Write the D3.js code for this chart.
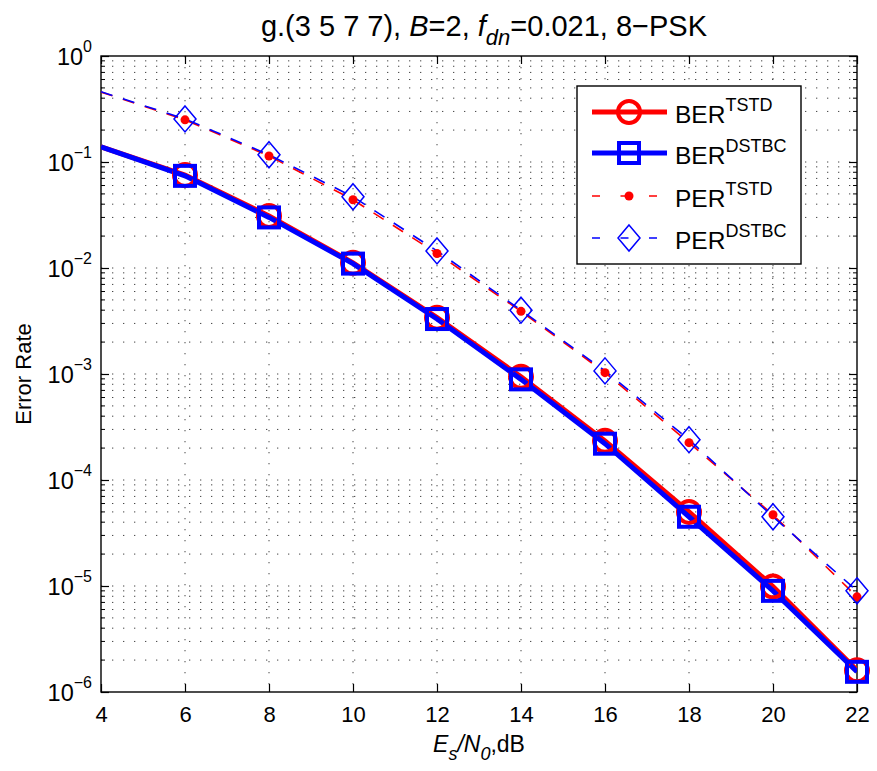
<!DOCTYPE html>
<html><head><meta charset="utf-8">
<script src="https://cdn.jsdelivr.net/npm/d3@7"></script>
<style>
body{margin:0;background:#fff;}
svg{font-family:"Liberation Sans",Arial,Helvetica,sans-serif;}
</style></head>
<body><svg id="c" width="877" height="771"></svg>
<script>
// ---- data ----
const snr = [4, 6, 8, 10, 12, 14, 16, 18, 20, 22];
const berTSTD  = [0.139, 0.0754, 0.031, 0.0112, 0.0034, 0.00094, 0.000234, 0.000050, 0.0000099, 0.0000016];
const berDSTBC = [0.139, 0.074, 0.030, 0.011, 0.0033, 0.00089, 0.00022, 0.000045, 0.0000090, 0.00000155];
const perTSTD  = [0.457, 0.25, 0.114, 0.044, 0.0137, 0.0039, 0.00103, 0.000225, 0.000047, 0.0000079];
const perDSTBC = [0.46, 0.255, 0.117, 0.047, 0.0145, 0.0040, 0.00107, 0.00024, 0.000045, 0.0000090];
const xTicks = [4, 6, 8, 10, 12, 14, 16, 18, 20, 22];
const yExps = [0, -1, -2, -3, -4, -5, -6];
const legendNames = [["BER","TSTD"],["BER","DSTBC"],["PER","TSTD"],["PER","DSTBC"]];

const svg = d3.select("#c");
const L = 101, R = 857, T = 56, B = 692;
const x = d3.scaleLinear().domain([4, 22]).range([L, R]);
const y = d3.scaleLog().domain([1e-6, 1]).range([B, T]);

svg.append("defs").append("clipPath").attr("id","clip")
  .append("rect").attr("x",L).attr("y",T).attr("width",R-L).attr("height",B-T);

// grid
const grid = svg.append("g");
const minorVals = [];
for (let e = -6; e < 0; e++) for (let m = 1; m <= 9; m++) minorVals.push(m * Math.pow(10, e));
minorVals.push(1);
grid.selectAll("line.h").data(minorVals.filter(v => v > 1e-6 && v < 1)).enter().append("line")
  .attr("x1", L).attr("x2", R).attr("y1", d => y(d)).attr("y2", d => y(d))
  .attr("stroke", "#444").attr("stroke-width", 1).attr("stroke-dasharray", "1.3,9.7");
grid.selectAll("line.v").data(xTicks.slice(1, -1)).enter().append("line")
  .attr("x1", d => x(d)).attr("x2", d => x(d)).attr("y1", T).attr("y2", B)
  .attr("stroke", "#444").attr("stroke-width", 1).attr("stroke-dasharray", "1.3,9.7");

// axes
const xAxis = svg.append("g").attr("transform", `translate(0,${B})`)
  .call(d3.axisBottom(x).tickValues(xTicks).tickSize(-8).tickPadding(14).tickFormat(d3.format("d")));
xAxis.select(".domain").remove();
xAxis.selectAll("text").attr("font-size", 22).attr("fill","#000").attr("dy","0.71em");
xAxis.selectAll("line").attr("stroke","#000").attr("stroke-width",1.2);
const xAxisTop = svg.append("g").attr("transform", `translate(0,${T})`)
  .call(d3.axisTop(x).tickValues(xTicks).tickSize(-8).tickFormat(""));
xAxisTop.select(".domain").remove();
xAxisTop.selectAll("line").attr("stroke","#000").attr("stroke-width",1.2);

const yAxis = svg.append("g").attr("transform", `translate(${L},0)`)
  .call(d3.axisLeft(y).tickValues(yExps.map(e => Math.pow(10, e))).tickSize(-8).tickFormat(""));
yAxis.select(".domain").remove();
yAxis.selectAll("line").attr("stroke","#000").attr("stroke-width",1.2);
const yAxisR = svg.append("g").attr("transform", `translate(${R},0)`)
  .call(d3.axisRight(y).tickValues(yExps.map(e => Math.pow(10, e))).tickSize(-8).tickFormat(""));
yAxisR.select(".domain").remove();
yAxisR.selectAll("line").attr("stroke","#000").attr("stroke-width",1.2);
const minorOnly = minorVals.filter(v => { const l = Math.log10(v); return Math.abs(l - Math.round(l)) > 1e-9; });
svg.append("g").selectAll("line").data(minorOnly).enter().append("line")
  .attr("x1", L).attr("x2", L + 4).attr("y1", d => y(d)).attr("y2", d => y(d))
  .attr("stroke","#000").attr("stroke-width",1);
svg.append("g").selectAll("line").data(minorOnly).enter().append("line")
  .attr("x1", R).attr("x2", R - 4).attr("y1", d => y(d)).attr("y2", d => y(d))
  .attr("stroke","#000").attr("stroke-width",1);

// y tick labels
const yl = svg.append("g").selectAll("text").data(yExps).enter().append("text")
  .attr("x", 92).attr("y", d => y(Math.pow(10, d)) + 9).attr("text-anchor","end")
  .attr("font-size", 23.5).attr("fill","#000");
yl.append("tspan").text("10");
yl.append("tspan").attr("dy", -13).attr("font-size", 16).text(d => d === 0 ? "0" : "\u2212" + Math.abs(d));

// frame
svg.append("rect").attr("x",L).attr("y",T).attr("width",R-L).attr("height",B-T)
  .attr("fill","none").attr("stroke","#000").attr("stroke-width",1.4);

// series
const plot = svg.append("g").attr("clip-path","url(#clip)");
const lineGen = arr => d3.line().x((d,i) => x(snr[i])).y(d => y(d))(arr);
plot.append("path").attr("d", lineGen(perTSTD)).attr("fill","none").attr("stroke","red")
  .attr("stroke-width",1.6).attr("stroke-dasharray","12,11");
plot.append("path").attr("d", lineGen(perDSTBC)).attr("fill","none").attr("stroke","blue")
  .attr("stroke-width",1.6).attr("stroke-dasharray","12,11");
plot.append("path").attr("d", lineGen(berTSTD)).attr("fill","none").attr("stroke","red")
  .attr("stroke-width",5);
plot.append("path").attr("d", lineGen(berDSTBC)).attr("fill","none").attr("stroke","blue")
  .attr("stroke-width",5);

const mk = svg.append("g");
const idx = d3.range(1, snr.length);
mk.selectAll("circle.pd").data(idx).enter().append("circle")
  .attr("cx", i => x(snr[i])).attr("cy", i => y(perTSTD[i])).attr("r", 4.5).attr("fill","red");
mk.selectAll("path.dd").data(idx).enter().append("path")
  .attr("transform", i => `translate(${x(snr[i])},${y(perDSTBC[i])})`)
  .attr("d", "M0,-13L11,0L0,13L-11,0Z").attr("fill","none").attr("stroke","blue").attr("stroke-width",1.5);
mk.selectAll("circle.bc").data(idx).enter().append("circle")
  .attr("cx", i => x(snr[i])).attr("cy", i => y(berTSTD[i])).attr("r", 11).attr("fill","none")
  .attr("stroke","red").attr("stroke-width",4);
mk.selectAll("rect.bs").data(idx).enter().append("rect")
  .attr("x", i => x(snr[i]) - 10).attr("y", i => y(berDSTBC[i]) - 10).attr("width",20).attr("height",20)
  .attr("fill","none").attr("stroke","blue").attr("stroke-width",4);

// legend
const lg = svg.append("g");
lg.append("rect").attr("x",577).attr("y",86).attr("width",224).attr("height",178)
  .attr("fill","#fff").attr("stroke","#000").attr("stroke-width",1.4);
const ly = [112, 153, 196, 238];
const styles = [
  {c:"red", w:5, dash:false},
  {c:"blue", w:5, dash:false},
  {c:"red", w:1.6, dash:true},
  {c:"blue", w:1.6, dash:true}
];
legendNames.forEach((n, i) => {
  const g = lg.append("g");
  const ln = g.append("line").attr("x1",592).attr("x2",667).attr("y1",ly[i]).attr("y2",ly[i])
    .attr("stroke",styles[i].c).attr("stroke-width",styles[i].w);
  if (styles[i].dash) ln.attr("stroke-dasharray", "8,20.5");
  const cx = 629;
  if (i === 0) g.append("circle").attr("cx",cx).attr("cy",ly[i]).attr("r",11).attr("fill","none").attr("stroke","red").attr("stroke-width",4);
  if (i === 1) g.append("rect").attr("x",cx-10).attr("y",ly[i]-10).attr("width",20).attr("height",20).attr("fill","none").attr("stroke","blue").attr("stroke-width",4);
  if (i === 2) g.append("circle").attr("cx",cx).attr("cy",ly[i]).attr("r",4.5).attr("fill","red");
  if (i === 3) g.append("path").attr("transform",`translate(${cx},${ly[i]})`).attr("d","M0,-13L11,0L0,13L-11,0Z").attr("fill","none").attr("stroke","blue").attr("stroke-width",1.5);
  const t = g.append("text").attr("x",675).attr("y",ly[i]+11).attr("font-size",24.5).attr("fill","#000");
  t.append("tspan").text(n[0]);
  t.append("tspan").attr("dy",-12).attr("font-size",18).text(n[1]);
});

// title
const tt = svg.append("text").attr("x", 484).attr("y", 36).attr("text-anchor","middle")
  .attr("font-size", 29).attr("fill","#000");
tt.append("tspan").text("g.(3 5 7 7), ");
tt.append("tspan").attr("font-style","italic").text("B");
tt.append("tspan").text("=2, ");
tt.append("tspan").attr("font-style","italic").text("f");
tt.append("tspan").attr("font-style","italic").attr("font-size",22).attr("dy",9).text("dn");
tt.append("tspan").attr("dy",-9).text("=0.021, 8\u2212PSK");

// x label
const xlab = svg.append("text").attr("x", 479).attr("y", 752).attr("text-anchor","middle")
  .attr("font-size", 23).attr("fill","#000");
xlab.append("tspan").attr("font-style","italic").text("E");
xlab.append("tspan").attr("font-style","italic").attr("font-size",18).attr("dy",8).text("s");
xlab.append("tspan").attr("font-style","italic").attr("dy",-8).text("/N");
xlab.append("tspan").attr("font-style","italic").attr("font-size",18).attr("dy",8).text("0");
xlab.append("tspan").attr("dy",-8).text(",dB");

// y label
svg.append("text").attr("transform","translate(31,374) rotate(-90)").attr("text-anchor","middle")
  .attr("font-size", 22).attr("fill","#000").text("Error Rate");
</script></body></html>
